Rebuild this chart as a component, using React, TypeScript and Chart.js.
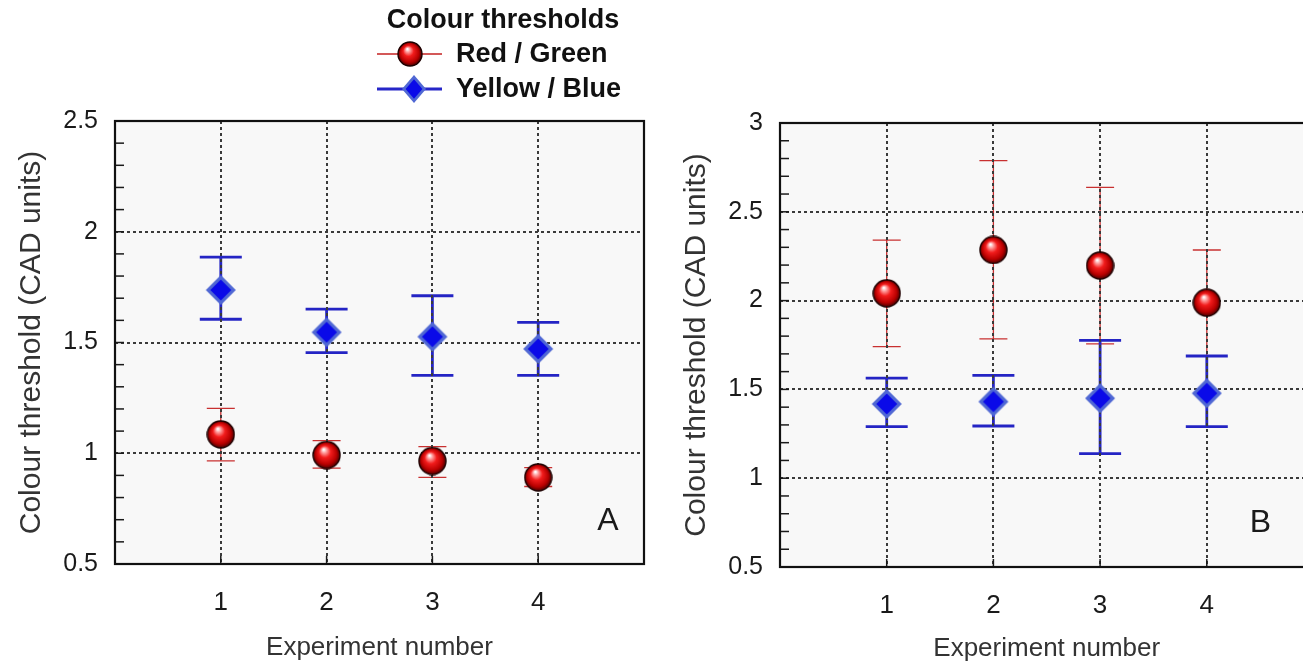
import { useEffect, useRef } from 'react';
import { Chart, registerables } from 'chart.js';

Chart.register(...registerables);

const FONT = "'Liberation Sans', Arial, Helvetica, sans-serif";

// ---------- data ----------
const experiments = [1, 2, 3, 4];
const xTicks = [1, 2, 3, 4];
const yTicksA = [0.5, 1, 1.5, 2, 2.5];
const yTicksB = [0.5, 1, 1.5, 2, 2.5, 3];

const seriesLabels = ['Red / Green', 'Yellow / Blue'];
const legendTitle = 'Colour thresholds';
const xTitle = 'Experiment number';
const yTitle = 'Colour threshold (CAD units)';

// Panel A
const redGreenA = [1.085, 0.992, 0.965, 0.891];
const redGreenA_low = [0.966, 0.933, 0.891, 0.85];
const redGreenA_high = [1.203, 1.057, 1.03, 0.935];
const yellowBlueA = [1.737, 1.546, 1.526, 1.471];
const yellowBlueA_low = [1.605, 1.454, 1.352, 1.352];
const yellowBlueA_high = [1.885, 1.651, 1.711, 1.591];

// Panel B
const redGreenB = [2.041, 2.285, 2.197, 1.988];
const redGreenB_low = [1.741, 1.784, 1.756, 1.69];
const redGreenB_high = [2.341, 2.788, 2.638, 2.285];
const yellowBlueB = [1.418, 1.431, 1.45, 1.478];
const yellowBlueB_low = [1.29, 1.294, 1.138, 1.29];
const yellowBlueB_high = [1.564, 1.579, 1.776, 1.688];

// ---------- marker images ----------
function makeSphere(d: number) {
  const s = Math.ceil(d + 2);
  const c = document.createElement('canvas');
  c.width = s;
  c.height = s;
  const ctx = c.getContext('2d')!;
  const r = d / 2;
  const cx = s / 2;
  const cy = s / 2;
  const g = ctx.createRadialGradient(cx - r * 0.22, cy - r * 0.42, r * 0.04, cx, cy, r);
  g.addColorStop(0, '#ffffff');
  g.addColorStop(0.16, '#ffa0a0');
  g.addColorStop(0.42, '#f21c1c');
  g.addColorStop(0.78, '#b80000');
  g.addColorStop(1, '#4a0000');
  ctx.beginPath();
  ctx.arc(cx, cy, r, 0, Math.PI * 2);
  ctx.fillStyle = g;
  ctx.fill();
  ctx.lineWidth = 1.4;
  ctx.strokeStyle = '#1e0000';
  ctx.stroke();
  return c;
}

function makeDiamond(w: number, h: number) {
  const c = document.createElement('canvas');
  c.width = Math.ceil(w + 2);
  c.height = Math.ceil(h + 2);
  const ctx = c.getContext('2d')!;
  const cx = c.width / 2;
  const cy = c.height / 2;
  const path = (k: number) => {
    ctx.beginPath();
    ctx.moveTo(cx, cy - (h / 2) * k);
    ctx.lineTo(cx + (w / 2) * k, cy);
    ctx.lineTo(cx, cy + (h / 2) * k);
    ctx.lineTo(cx - (w / 2) * k, cy);
    ctx.closePath();
  };
  path(1);
  ctx.fillStyle = '#5068d4';
  ctx.fill();
  path(0.7);
  ctx.fillStyle = '#0a0ae8';
  ctx.fill();
  return c;
}

// ---------- plugin: background, error bars, frame, ticks, letter, legend ----------
const panelPlugin = {
  id: 'panel',
  beforeDraw(chart: any, _args: any, o: any) {
    const { ctx, chartArea: ca } = chart;
    const x = chart.scales.x;
    const y = chart.scales.y;
    ctx.save();
    ctx.fillStyle = o.bg;
    ctx.fillRect(ca.left, ca.top, ca.right - ca.left, ca.bottom - ca.top);
    for (const eb of o.errorBars) {
      ctx.strokeStyle = eb.color;
      ctx.lineWidth = eb.width;
      experiments.forEach((xv: number, i: number) => {
        const px = x.getPixelForValue(xv);
        const pl = y.getPixelForValue(eb.low[i]);
        const ph = y.getPixelForValue(eb.high[i]);
        ctx.beginPath();
        ctx.moveTo(px, pl);
        ctx.lineTo(px, ph);
        ctx.moveTo(px - eb.cap, pl);
        ctx.lineTo(px + eb.cap, pl);
        ctx.moveTo(px - eb.cap, ph);
        ctx.lineTo(px + eb.cap, ph);
        ctx.stroke();
      });
    }
    ctx.restore();
  },
  afterDraw(chart: any, _args: any, o: any) {
    const { ctx, chartArea: ca } = chart;
    const x = chart.scales.x;
    const y = chart.scales.y;
    ctx.save();
    // minor ticks on the y axis (inward)
    ctx.strokeStyle = '#1a1a1a';
    ctx.lineWidth = 1.5;
    const n = Math.round((y.max - y.min) / 0.1);
    for (let i = 0; i <= n; i++) {
      const py = y.getPixelForValue(y.min + i * 0.1);
      ctx.beginPath();
      ctx.moveTo(ca.left, py);
      ctx.lineTo(ca.left + 9, py);
      ctx.stroke();
    }
    // x ticks (inward)
    xTicks.forEach((v) => {
      const px = x.getPixelForValue(v);
      ctx.beginPath();
      ctx.moveTo(px, ca.bottom);
      ctx.lineTo(px, ca.bottom - 8);
      ctx.stroke();
    });
    // frame
    ctx.lineWidth = 2.2;
    ctx.strokeStyle = '#111';
    ctx.strokeRect(ca.left, ca.top, ca.right - ca.left, ca.bottom - ca.top);
    // panel letter
    ctx.fillStyle = '#1a1a1a';
    ctx.font = `32px ${FONT}`;
    ctx.textAlign = 'center';
    ctx.textBaseline = 'middle';
    ctx.fillText(o.letter, ca.right - o.letterDx, ca.bottom - o.letterDy);
    // legend
    if (o.legend) {
      const L = o.legend;
      ctx.fillStyle = '#111';
      ctx.font = `bold 27px ${FONT}`;
      ctx.textAlign = 'center';
      ctx.fillText(legendTitle, L.titleX, L.titleY);
      // red row
      ctx.strokeStyle = '#c42020';
      ctx.lineWidth = 1.5;
      ctx.beginPath();
      ctx.moveTo(L.lineX0, L.row1);
      ctx.lineTo(L.lineX1, L.row1);
      ctx.stroke();
      ctx.drawImage(L.sphere, L.mark1X - L.sphere.width / 2, L.row1 - L.sphere.height / 2);
      // blue row
      ctx.strokeStyle = '#2626c8';
      ctx.lineWidth = 3;
      ctx.beginPath();
      ctx.moveTo(L.lineX0, L.row2);
      ctx.lineTo(L.lineX1, L.row2);
      ctx.stroke();
      ctx.drawImage(L.diamond, L.mark2X - L.diamond.width / 2, L.row2 - L.diamond.height / 2);
      ctx.fillStyle = '#111';
      ctx.textAlign = 'left';
      ctx.fillText(seriesLabels[0], L.textX, L.row1 + 1);
      ctx.fillText(seriesLabels[1], L.textX, L.row2 + 1);
    }
    ctx.restore();
  },
};

function buildConfig(p: any) {
  const gridOpts = { color: '#3a3a3a', lineWidth: 2, drawTicks: false };
  return {
    type: 'scatter',
    data: {
      datasets: [
        {
          label: seriesLabels[0],
          data: experiments.map((x, i) => ({ x, y: p.rg[i] })),
          pointStyle: p.sphere,
          pointRadius: 14,
          pointHoverRadius: 14,
        },
        {
          label: seriesLabels[1],
          data: experiments.map((x, i) => ({ x, y: p.yb[i] })),
          pointStyle: p.diamond,
          pointRadius: 15,
          pointHoverRadius: 15,
        },
      ],
    },
    options: {
      responsive: false,
      maintainAspectRatio: false,
      animation: false,
      devicePixelRatio: 1,
      events: [],
      layout: { padding: { top: p.top, right: p.right, left: 0, bottom: 0 } },
      plugins: {
        legend: { display: false },
        tooltip: { enabled: false },
        panel: {
          bg: '#f8f8f8',
          errorBars: [
            { low: p.rgLow, high: p.rgHigh, color: '#c83030', width: 1.3, cap: 14 },
            { low: p.ybLow, high: p.ybHigh, color: '#2424c4', width: 2.8, cap: 21 },
          ],
          letter: p.letter,
          letterDx: p.letterDx,
          letterDy: p.letterDy,
          legend: p.legend,
        },
      },
      scales: {
        x: {
          type: 'linear',
          min: 0,
          max: 5,
          afterBuildTicks: (s: any) => {
            s.ticks = xTicks.map((v) => ({ value: v }));
          },
          afterFit: (s: any) => {
            s.height = p.xAxisH;
          },
          grid: gridOpts,
          border: { display: false, dash: [3, 3] },
          ticks: {
            padding: 23,
            color: '#1a1a1a',
            font: { family: FONT, size: 26 },
            autoSkip: false,
            maxRotation: 0,
            callback: (v: number) => String(v),
          },
          title: {
            display: true,
            text: xTitle,
            color: '#333',
            font: { family: FONT, size: 26 },
            padding: { top: 0, bottom: p.xTitlePad },
          },
        },
        y: {
          type: 'linear',
          min: p.yMin,
          max: p.yMax,
          afterBuildTicks: (s: any) => {
            s.ticks = p.yTicks.map((v: number) => ({ value: v }));
          },
          afterFit: (s: any) => {
            s.width = p.yAxisW;
          },
          grid: gridOpts,
          border: { display: false, dash: [3, 3] },
          ticks: {
            padding: 17,
            color: '#1a1a1a',
            font: { family: FONT, size: 25 },
            autoSkip: false,
            callback: (v: number) => String(v),
          },
          title: {
            display: true,
            text: yTitle,
            color: '#333',
            font: { family: FONT, size: 30 },
            padding: { top: p.yTitlePad, bottom: 0 },
          },
        },
      },
    },
    plugins: [panelPlugin],
  };
}

export default function App() {
  const refA = useRef<HTMLCanvasElement>(null);
  const refB = useRef<HTMLCanvasElement>(null);

  useEffect(() => {
    const sphere = makeSphere(27);
    const diamond = makeDiamond(30, 30);
    const legSphere = makeSphere(24);
    const legDiamond = makeDiamond(24, 28);

    const chartA = new Chart(
      refA.current!,
      buildConfig({
        rg: redGreenA,
        rgLow: redGreenA_low,
        rgHigh: redGreenA_high,
        yb: yellowBlueA,
        ybLow: yellowBlueA_low,
        ybHigh: yellowBlueA_high,
        yMin: 0.5,
        yMax: 2.5,
        yTicks: yTicksA,
        sphere,
        diamond,
        top: 121,
        right: 11,
        xAxisH: 102,
        yAxisW: 115,
        xTitlePad: 3,
        yTitlePad: 14,
        letter: 'A',
        letterDx: 36,
        letterDy: 43,
        legend: {
          titleX: 503,
          titleY: 21,
          row1: 54,
          row2: 89,
          lineX0: 377,
          lineX1: 442,
          mark1X: 410,
          mark2X: 414,
          textX: 456,
          sphere: legSphere,
          diamond: legDiamond,
        },
      }) as any
    );

    const chartB = new Chart(
      refB.current!,
      buildConfig({
        rg: redGreenB,
        rgLow: redGreenB_low,
        rgHigh: redGreenB_high,
        yb: yellowBlueB,
        ybLow: yellowBlueB_low,
        ybHigh: yellowBlueB_high,
        yMin: 0.5,
        yMax: 3,
        yTicks: yTicksB,
        sphere,
        diamond,
        top: 123,
        right: 16.5,
        xAxisH: 99,
        yAxisW: 120,
        xTitlePad: 2,
        yTitlePad: 19,
        letter: 'B',
        letterDx: 53,
        letterDy: 44,
        legend: null,
      }) as any
    );

    return () => {
      chartA.destroy();
      chartB.destroy();
    };
  }, []);

  return (
    <div
      style={{
        position: 'absolute',
        left: 0,
        top: 0,
        width: 1303,
        height: 666,
        overflow: 'hidden',
        background: '#ffffff',
      }}
    >
      <canvas
        ref={refA}
        width={660}
        height={666}
        style={{ position: 'absolute', left: 0, top: 0, width: 660, height: 666, display: 'block' }}
      />
      <canvas
        ref={refB}
        width={670}
        height={666}
        style={{ position: 'absolute', left: 660, top: 0, width: 670, height: 666, display: 'block' }}
      />
    </div>
  );
}
